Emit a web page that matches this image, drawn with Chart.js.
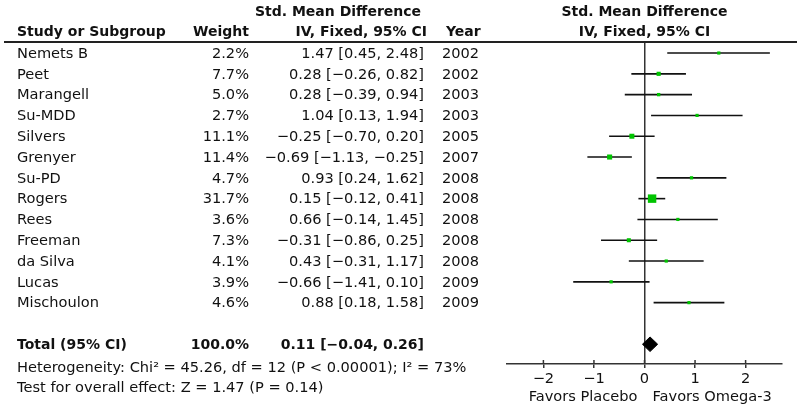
<!DOCTYPE html>
<html>
<head>
<meta charset="utf-8">
<script src="https://cdn.jsdelivr.net/npm/chart.js@4.4.1/dist/chart.umd.min.js"></script>
<style>
html,body{margin:0;padding:0;background:#fff;}
#c{display:block;}
</style>
</head>
<body>
<canvas id="c" width="800" height="408"></canvas>
<script>
// ---- data ----
const studies = ['Nemets B','Peet','Marangell','Su-MDD','Silvers','Grenyer','Su-PD','Rogers','Rees','Freeman','da Silva','Lucas','Mischoulon'];
const weights = [2.2,7.7,5.0,2.7,11.1,11.4,4.7,31.7,3.6,7.3,4.1,3.9,4.6];
const smd     = [1.47,0.28,0.28,1.04,-0.25,-0.69,0.93,0.15,0.66,-0.31,0.43,-0.66,0.88];
const ciLow   = [0.45,-0.26,-0.39,0.13,-0.70,-1.13,0.24,-0.12,-0.14,-0.86,-0.31,-1.41,0.18];
const ciHigh  = [2.48,0.82,0.94,1.94,0.20,-0.25,1.62,0.41,1.45,0.25,1.17,0.10,1.58];
const years   = [2002,2002,2003,2003,2005,2007,2008,2008,2008,2008,2008,2009,2009];
const totalWeight = 100.0;
const totalEffect = [0.11, -0.04, 0.26]; // estimate, low, high
const xTicks = [-2,-1,0,1,2];
const heterogeneityText = 'Heterogeneity: Chi\u00B2 = 45.26, df = 12 (P < 0.00001); I\u00B2 = 73%';
const overallText = 'Test for overall effect: Z = 1.47 (P = 0.14)';
const favorsLeft = 'Favors Placebo';
const favorsRight = 'Favors Omega-3';

// ---- helpers ----
const MINUS = '\u2212';
const fmt = v => (v < 0 ? MINUS : '') + Math.abs(v).toFixed(2);
const FONT = '"DejaVu Sans", sans-serif';
const totalRow = studies.length + 1;

const datasets = [];
studies.forEach((s, i) => {
  datasets.push({
    type: 'line', order: 1,
    data: [{x: ciLow[i], y: i}, {x: ciHigh[i], y: i}],
    borderColor: '#111', borderWidth: 1.6, pointRadius: 0, fill: false
  });
});
datasets.push({
  type: 'scatter', order: -2,
  data: studies.map((s, i) => ({x: smd[i], y: i})),
  pointStyle: 'rect',
  pointRadius: weights.map(w => Math.max(3.2, 1.5 * Math.sqrt(w)) / Math.SQRT2),
  backgroundColor: '#00c400', borderWidth: 0, pointHoverRadius: 0
});
const dh = 0.35;
datasets.push({
  type: 'line', order: -1,
  data: [
    {x: totalEffect[1], y: totalRow},
    {x: totalEffect[0], y: totalRow - dh},
    {x: totalEffect[2], y: totalRow},
    {x: totalEffect[0], y: totalRow + dh},
    {x: totalEffect[1], y: totalRow}
  ],
  borderColor: '#000', backgroundColor: '#000', borderWidth: 1, pointRadius: 0,
  fill: 'shape', tension: 0
});

const tablePlugin = {
  id: 'table',
  afterDraw(chart) {
    const ctx = chart.ctx;
    const ys = chart.scales.y, xs = chart.scales.x;
    const rowY = r => ys.getPixelForValue(r);
    const x0 = xs.getPixelForValue(0);
    ctx.save();
    ctx.fillStyle = '#111';
    ctx.textBaseline = 'middle';
    const text = (t, x, y, align, bold) => {
      ctx.font = (bold ? 'bold 14px ' : '14.6px ') + FONT;
      ctx.textAlign = align;
      ctx.fillText(t, x, y);
    };
    // header
    const h1 = 12, h2 = 32;
    text('Std. Mean Difference', 338, h1, 'center', true);
    text('Study or Subgroup', 17, h2, 'left', true);
    text('Weight', 249, h2, 'right', true);
    text('IV, Fixed, 95% CI', 427, h2, 'right', true);
    text('Year', 446, h2, 'left', true);
    text('Std. Mean Difference', x0, h1, 'center', true);
    text('IV, Fixed, 95% CI', x0, h2, 'center', true);
    // header rule
    ctx.strokeStyle = '#222';
    ctx.lineWidth = 2;
    ctx.beginPath();
    ctx.moveTo(4, chart.chartArea.top);
    ctx.lineTo(797, chart.chartArea.top);
    ctx.stroke();
    // rows
    studies.forEach((s, i) => {
      const y = rowY(i) + 1;
      text(s, 17, y, 'left', false);
      text(weights[i].toFixed(1) + '%', 249, y, 'right', false);
      text(fmt(smd[i]) + ' [' + fmt(ciLow[i]) + ', ' + fmt(ciHigh[i]) + ']', 424, y, 'right', false);
      text(String(years[i]), 442, y, 'left', false);
    });
    const ty = rowY(totalRow) + 1;
    text('Total (95% CI)', 17, ty, 'left', true);
    text(totalWeight.toFixed(1) + '%', 249, ty, 'right', true);
    text(fmt(totalEffect[0]) + ' [' + fmt(totalEffect[1]) + ', ' + fmt(totalEffect[2]) + ']', 424, ty, 'right', true);
    text(heterogeneityText, 17, rowY(totalRow + 1.15), 'left', false);
    text(overallText, 17, rowY(totalRow + 2.1), 'left', false);
    // favors labels
    const fy = chart.chartArea.bottom + 33;
    text(favorsLeft, x0 - 7, fy, 'right', false);
    text(favorsRight, x0 + 8, fy, 'left', false);
    // upper half of tick marks
    ctx.strokeStyle = '#333';
    ctx.lineWidth = 1.5;
    xTicks.forEach(v => {
      const px = xs.getPixelForValue(v);
      ctx.beginPath();
      ctx.moveTo(px, chart.chartArea.bottom);
      ctx.lineTo(px, chart.chartArea.bottom - 4);
      ctx.stroke();
    });
    ctx.restore();
  }
};

new Chart(document.getElementById('c'), {
  data: { datasets },
  options: {
    responsive: false,
    devicePixelRatio: 1,
    animation: false,
    events: [],
    layout: { padding: { left: 507, right: 18, top: 42, bottom: 0 } },
    plugins: { legend: { display: false }, tooltip: { enabled: false } },
    scales: {
      x: {
        type: 'linear', min: -2.72, max: 2.72,
        afterBuildTicks: s => { s.ticks = xTicks.map(v => ({value: v})); },
        afterFit: s => { s.height = 44; },
        border: { display: true, color: '#333', width: 1.5 },
        grid: {
          drawOnChartArea: true,
          color: c => (c.tick && c.tick.value === 0) ? '#333' : 'rgba(0,0,0,0)',
          lineWidth: 1.5,
          tickColor: '#333',
          tickLength: 4,
          drawTicks: true
        },
        ticks: {
          color: '#111', padding: 2,
          font: { family: FONT, size: 14.6 },
          callback: v => (v < 0 ? MINUS : '') + Math.abs(v)
        }
      },
      y: {
        type: 'linear', min: -0.53, max: 14.95, reverse: true, display: false
      }
    }
  },
  plugins: [tablePlugin]
});
</script>
</body>
</html>
